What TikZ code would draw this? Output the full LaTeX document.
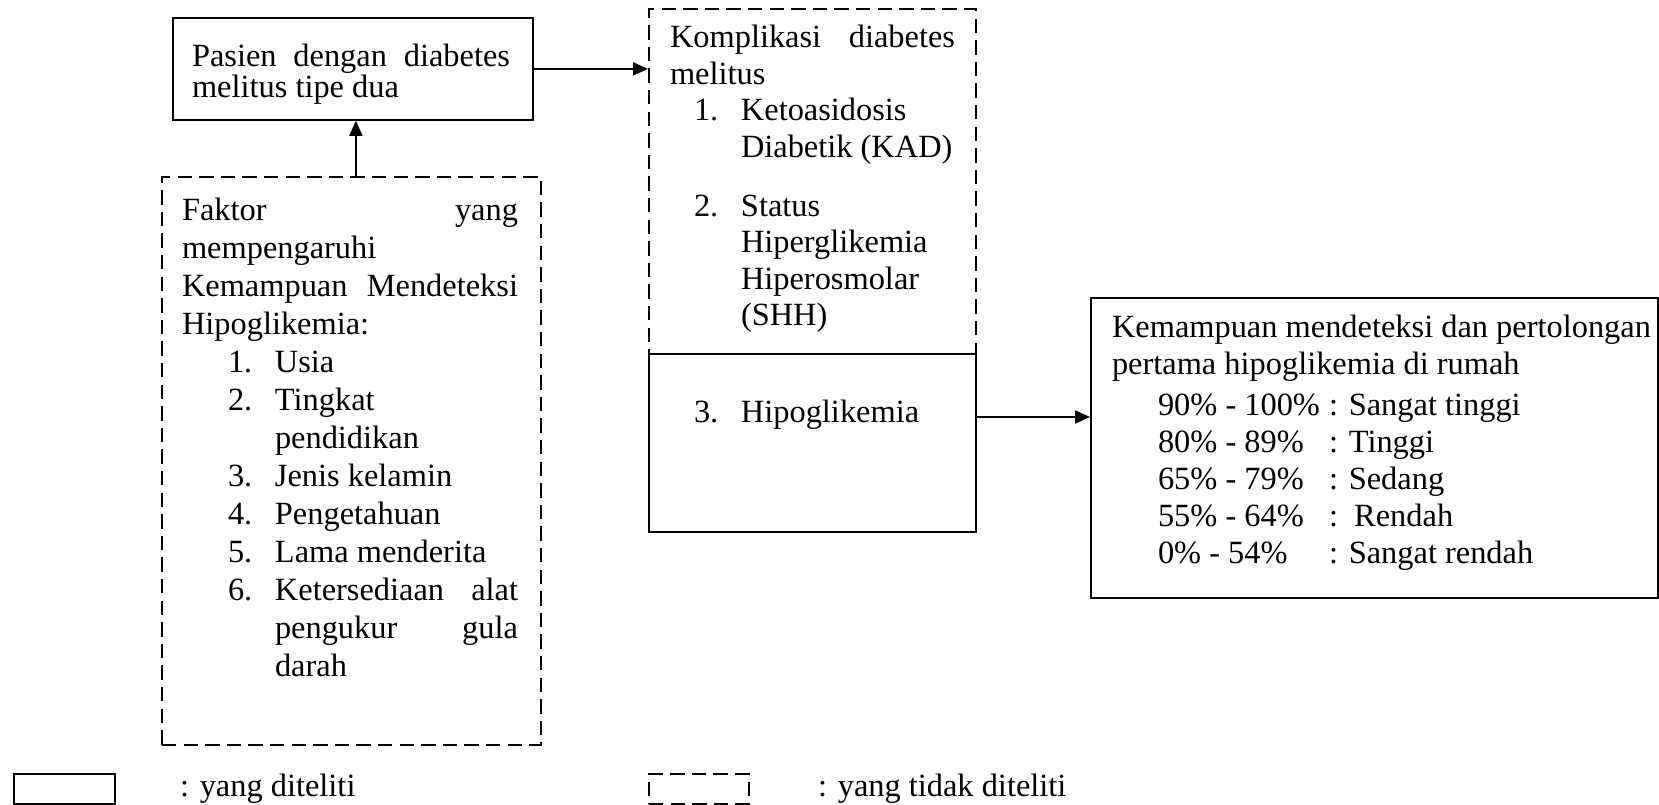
\documentclass[tikz,border=0pt]{standalone}
\usepackage{fontspec}
\setmainfont{Liberation Serif}
\usetikzlibrary{arrows.meta}
\begin{document}
\begin{tikzpicture}[x=0.5pt,y=-0.5pt,
  box/.style={draw, line width=0.9pt, inner sep=0pt, anchor=north west},
  dbox/.style={box, dash pattern=on 7.2pt off 3.6pt},
  txt/.style={anchor=base west, inner sep=0pt, outer sep=0pt, font=\fontsize{16.2}{18.5}\selectfont},
  arr/.style={line width=0.9pt, -{Triangle[length=7.5pt,width=6.5pt]}}]
\useasboundingbox (0,0) rectangle (1659,804);

% boxes
\node[box, minimum width=180pt, minimum height=51pt] (b1) at (172,17) {};
\node[dbox, minimum width=163.5pt, minimum height=172.5pt] (komp) at (648,8) {};
\node[box, minimum width=163.5pt, minimum height=89pt] (low) at (648,353) {};
\node[dbox, minimum width=189.5pt, minimum height=284pt] (fak) at (161,176) {};
\node[box, minimum width=283.5pt, minimum height=150pt] (res) at (1090,297) {};

% texts: box 1
\node[txt] (t1a) at (192,66) {\makebox[159pt][s]{Pasien dengan diabetes}};
\node[txt] (t1b) at (192,97) {melitus tipe dua};

% komplikasi
\node[txt] (k1) at (670,47) {\makebox[142.5pt][s]{Komplikasi diabetes}};
\node[txt] (k2) at (670,84) {melitus};
\node[txt] (k3) at (694,120) {\makebox[23.5pt][l]{1.}Ketoasidosis};
\node[txt] (k4) at (741,157) {Diabetik (KAD)};
\node[txt] (k5) at (694,216) {\makebox[23.5pt][l]{2.}Status};
\node[txt] (k6) at (741,252) {Hiperglikemia};
\node[txt] (k7) at (741,289) {Hiperosmolar};
\node[txt] (k8) at (741,325) {(SHH)};
\node[txt] (k9) at (694,422) {\makebox[23.5pt][l]{3.}Hipoglikemia};

% faktor
\node[txt] (f1) at (182,220) {\makebox[168pt][s]{Faktor yang}};
\node[txt] (f2) at (182,258) {mempengaruhi};
\node[txt] (f3) at (182,296) {\makebox[168pt][s]{Kemampuan Mendeteksi}};
\node[txt] (f4) at (182,334) {Hipoglikemia:};
\node[txt] (f5) at (228,372) {\makebox[23.5pt][l]{1.}Usia};
\node[txt] (f6) at (228,410) {\makebox[23.5pt][l]{2.}Tingkat};
\node[txt] (f7) at (275,448) {pendidikan};
\node[txt] (f8) at (228,486) {\makebox[23.5pt][l]{3.}Jenis kelamin};
\node[txt] (f9) at (228,524) {\makebox[23.5pt][l]{4.}Pengetahuan};
\node[txt] (f10) at (228,562) {\makebox[23.5pt][l]{5.}Lama menderita};
\node[txt] (f11) at (228,600) {\makebox[23.5pt][l]{6.}\makebox[121.5pt][s]{Ketersediaan alat}};
\node[txt] (f12) at (275,638) {\makebox[121.5pt][s]{pengukur gula}};
\node[txt] (f13) at (275,676) {darah};

% result box
\node[txt] (r1) at (1112,337) {Kemampuan mendeteksi dan pertolongan};
\node[txt] (r2) at (1112,374) {pertama hipoglikemia di rumah};
\node[txt] (p1) at (1158,415) {90\% - 100\%};
\node[txt] (p2) at (1158,452) {80\% - 89\%};
\node[txt] (p3) at (1158,489) {65\% - 79\%};
\node[txt] (p4) at (1158,526) {55\% - 64\%};
\node[txt] (p5) at (1158,563) {0\% - 54\%};
\node[txt] (c1) at (1329,415) {: Sangat tinggi};
\node[txt] (c2) at (1329,452) {: Tinggi};
\node[txt] (c3) at (1329,489) {: Sedang};
\node[txt] (c4) at (1329,526) {:\ \ Rendah};
\node[txt] (c5) at (1329,563) {: Sangat rendah};

% arrows
\draw[arr] (b1.east) -- (b1.east -| komp.west);
\draw[arr] ([xshift=2.25pt]fak.north) -- ([xshift=2.25pt]fak.north |- b1.south);
\coordinate (ha) at (976,417);
\draw[arr] (ha -| low.east) -- (ha -| res.west);

% legend
\node[box, minimum width=50.5pt, minimum height=15pt] (lg1) at (13,773) {};
\node[txt] (lt1) at (180,796) {: yang diteliti};
\node[dbox, minimum width=50pt, minimum height=15pt] (lg2) at (648,773) {};
\node[txt] (lt2) at (818,796) {: yang tidak diteliti};
\end{tikzpicture}
\end{document}
